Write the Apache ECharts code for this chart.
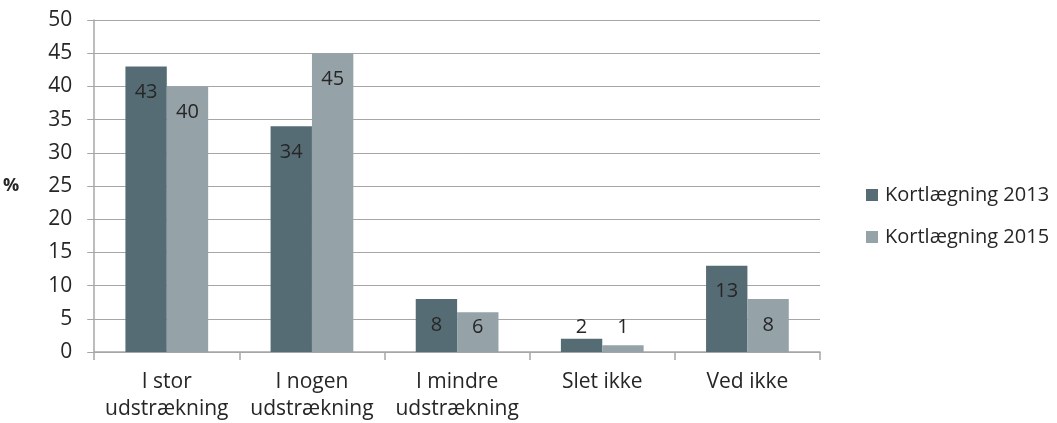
<!DOCTYPE html>
<html>
<head>
<meta charset="utf-8">
<script src="https://cdn.jsdelivr.net/npm/echarts@6/dist/echarts.min.js"></script>
<style>
  html, body { margin: 0; padding: 0; background: #fff; }
  #chart { width: 1057px; height: 423px; }
</style>
</head>
<body>
<div id="chart"></div>
<script>
// data
const categories = ['I stor\nudstrækning', 'I nogen\nudstrækning', 'I mindre\nudstrækning', 'Slet ikke', 'Ved ikke'];
const values2013 = [43, 34, 8, 2, 13];
const values2015 = [40, 45, 6, 1, 8];
const seriesNames = ['Kortlægning 2013', 'Kortlægning 2015'];
const yTicks = { min: 0, max: 50, interval: 5 };

const FONT = '"Open Sans"';
const TEXT = '#262626';
const GRID_TOP = 20, GRID_BOTTOM = 71;
const plotH = 423 - GRID_TOP - GRID_BOTTOM;

// label sits ~26px under the bar top, but never lower than ~26px above the axis
const labelFor = (v) => {
  const barH = v * plotH / yTicks.max;
  const off = Math.min(26, barH - 25);
  return {
    value: v,
    label: { position: ['50%', off], align: 'center', verticalAlign: 'middle' }
  };
};

const chart = echarts.init(document.getElementById('chart'));

const barLabel = {
  show: true,
  color: TEXT,
  fontFamily: FONT,
  fontSize: 20
};

chart.setOption({
  animation: false,
  textStyle: { fontFamily: FONT },
  grid: { left: 90, right: 237, top: GRID_TOP, bottom: GRID_BOTTOM },
  legend: {
    orient: 'vertical',
    left: 861,
    top: 180,
    itemWidth: 12,
    itemHeight: 12,
    itemGap: 22,
    icon: 'rect',
    textStyle: { color: TEXT, fontFamily: FONT, fontSize: 20, padding: [0, 0, 0, 2] },
    data: seriesNames
  },
  xAxis: {
    type: 'category',
    data: categories,
    axisLine: { lineStyle: { color: '#a6a6a6', width: 1.5 } },
    axisTick: { show: true, length: 8, lineStyle: { color: '#a6a6a6', width: 1.5 } },
    axisLabel: {
      color: TEXT, fontFamily: FONT, fontSize: 21, lineHeight: 27, margin: 17,
      interval: 0
    }
  },
  yAxis: {
    type: 'value',
    min: yTicks.min,
    max: yTicks.max,
    interval: yTicks.interval,
    name: '%',
    nameLocation: 'middle',
    nameRotate: 0,
    nameGap: 75,
    nameTextStyle: { color: TEXT, fontFamily: FONT, fontSize: 18, fontWeight: 'bold' },
    axisLine: { show: true, lineStyle: { color: '#a6a6a6', width: 1.5 } },
    axisTick: { show: true, length: 7, lineStyle: { color: '#a6a6a6' } },
    splitLine: { lineStyle: { color: '#a6a6a6', width: 1 } },
    axisLabel: { color: TEXT, fontFamily: FONT, fontSize: 21, margin: 22 }
  },
  series: [
    {
      name: seriesNames[0],
      type: 'bar',
      barGap: '0%',
      barCategoryGap: '43%',
      itemStyle: { color: '#566c75' },
      label: barLabel,
      data: values2013.map(labelFor)
    },
    {
      name: seriesNames[1],
      type: 'bar',
      itemStyle: { color: '#95a3a9' },
      label: barLabel,
      data: values2015.map(labelFor)
    }
  ]
});
</script>
</body>
</html>
